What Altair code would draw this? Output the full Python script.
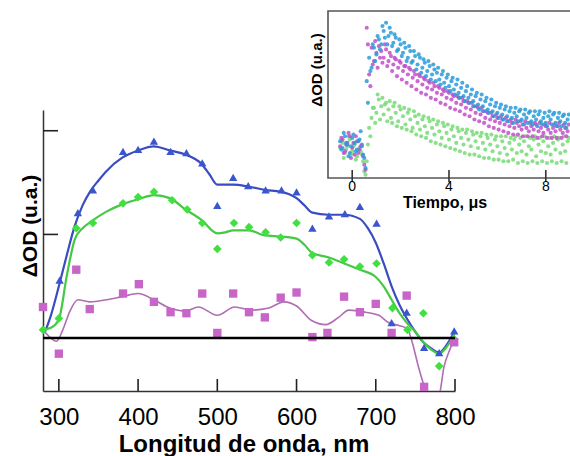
import altair as alt
import pandas as pd

FONT = "Liberation Sans"

# ---------------- main spectra (wavelength nm, dOD a.u.) ----------------
blue_nm = [301, 324, 343, 381, 400, 420, 441, 461, 481, 500, 520, 539, 561, 581, 600,
           620, 641, 661, 680, 701, 720, 739, 761, 780, 799]
blue_val = [0.56, 1.21, 1.43, 1.80, 1.82, 1.90, 1.80, 1.79, 1.69, 1.28, 1.55, 1.47, 1.43, 1.43, 1.41,
            1.06, 1.18, 1.20, 1.27, 1.11, 0.15, 0.25, -0.09, -0.14, 0.07]

green_nm = [280, 300, 322, 343, 381, 400, 420, 443, 462, 481, 500, 521, 540, 561, 580, 600,
            620, 641, 660, 680, 701, 721, 740, 760, 780, 799]
green_val = [0.08, 0.19, 1.06, 1.11, 1.30, 1.36, 1.41, 1.33, 1.24, 1.11, 0.86, 1.11, 1.07, 1.02, 0.97, 1.11,
             0.80, 0.73, 0.76, 0.69, 0.72, 0.29, 0.08, 0.24, -0.27, -0.01]

mag_nm = [280, 300, 322, 339, 381, 401, 420, 441, 461, 481, 500, 520, 540, 560, 580, 600,
          620, 639, 660, 680, 700, 720, 739, 761, 799]
mag_val = [0.30, -0.15, 0.66, 0.28, 0.43, 0.52, 0.35, 0.25, 0.24, 0.43, 0.05, 0.43, 0.25, 0.20, 0.39, 0.44,
           0.01, 0.05, 0.40, 0.25, 0.33, 0.05, 0.41, -0.47, -0.04]

blue_line_nm = [282, 290, 300, 310, 320, 330, 340, 350, 360, 380, 400, 420, 440, 460, 480, 490, 500,
                520, 540, 560, 580, 590, 600, 610, 620, 640, 660, 680, 690, 700, 710, 720, 730, 740,
                750, 760, 770, 780, 790, 800]
blue_line_val = [0.05, 0.22, 0.50, 0.80, 1.08, 1.28, 1.42, 1.52, 1.61, 1.74, 1.81, 1.85, 1.81, 1.77, 1.68, 1.58, 1.48,
                 1.48, 1.46, 1.43, 1.41, 1.39, 1.35, 1.28, 1.21, 1.19, 1.19, 1.15, 1.06, 0.92, 0.72, 0.50, 0.32, 0.18,
                 0.06, -0.04, -0.10, -0.14, -0.06, 0.07]

green_line_nm = [280, 290, 300, 310, 320, 330, 340, 360, 380, 400, 420, 440, 460, 480, 500, 510, 520,
                 540, 560, 580, 600, 610, 620, 640, 660, 680, 700, 710, 720, 730, 740, 750, 760, 770,
                 780, 790, 800]
green_line_val = [0.08, 0.10, 0.18, 0.60, 0.95, 1.06, 1.12, 1.22, 1.29, 1.34, 1.38, 1.35, 1.24, 1.14, 1.01, 1.02, 1.04,
                  1.04, 0.99, 0.98, 0.96, 0.90, 0.82, 0.78, 0.72, 0.66, 0.59, 0.50, 0.37, 0.24, 0.14, 0.06, -0.04, -0.11,
                  -0.15, -0.08, 0.05]

mag_line_nm = [280, 290, 297, 305, 314, 324, 339, 360, 380, 400, 420, 440, 460, 476, 500, 522, 543,
               565, 584, 600, 619, 637, 653, 666, 687, 704, 716, 730, 740, 746, 754, 763, 772, 780,
               786, 793, 800]
mag_line_val = [0.08, 0.00, -0.03, 0.08, 0.26, 0.37, 0.35, 0.37, 0.40, 0.43, 0.37, 0.29, 0.26, 0.30, 0.22, 0.30, 0.27,
                0.29, 0.35, 0.31, 0.17, 0.13, 0.20, 0.27, 0.25, 0.22, 0.15, 0.12, 0.09, -0.04, -0.28, -0.50, -0.60, -0.55,
                -0.28, -0.12, 0.00]

x_ticks = [300, 400, 500, 600, 700, 800]
y_ticks = [1, 2]

# ---------------- inset kinetics (time us, dOD a.u.) ----------------
t_inset_a = [-0.5, -0.4, -0.3, -0.2, -0.1, 0.0, 0.1, 0.2, 0.3, 0.4,
             0.5, 0.6, 0.7, 0.8, 0.9, 1.0, 1.1, 1.2, 1.3, 1.4,
             1.5, 1.6, 1.7, 1.8, 1.9, 2.0, 2.1, 2.2, 2.3, 2.4,
             2.5, 2.6, 2.7, 2.8, 2.9, 3.0, 3.1, 3.2, 3.3, 3.4,
             3.5, 3.6, 3.7, 3.8, 3.9, 4.0, 4.1, 4.2, 4.3, 4.4,
             4.5, 4.6, 4.7, 4.8, 4.9, 5.0, 5.1, 5.2, 5.3, 5.4,
             5.5, 5.6, 5.7, 5.8, 5.9, 6.0, 6.1, 6.2, 6.3, 6.4,
             6.5, 6.6, 6.7, 6.8, 6.9, 7.0, 7.1, 7.2, 7.3, 7.4,
             7.5, 7.6, 7.7, 7.8, 7.9, 8.0, 8.1, 8.2, 8.3, 8.4,
             8.5, 8.6, 8.7, 8.8, 8.9]
t_inset_b = [-0.45, -0.35, -0.25, -0.15, -0.05, 0.05, 0.15, 0.25, 0.35, 0.45,
             0.55, 0.65, 0.75, 0.85, 0.95, 1.05, 1.15, 1.25, 1.35, 1.45,
             1.55, 1.65, 1.75, 1.85, 1.95, 2.05, 2.15, 2.25, 2.35, 2.45,
             2.55, 2.65, 2.75, 2.85, 2.95, 3.05, 3.15, 3.25, 3.35, 3.45,
             3.55, 3.65, 3.75, 3.85, 3.95, 4.05, 4.15, 4.25, 4.35, 4.45,
             4.55, 4.65, 4.75, 4.85, 4.95, 5.05, 5.15, 5.25, 5.35, 5.45,
             5.55, 5.65, 5.75, 5.85, 5.95, 6.05, 6.15, 6.25, 6.35, 6.45,
             6.55, 6.65, 6.75, 6.85, 6.95, 7.05, 7.15, 7.25, 7.35, 7.45,
             7.55, 7.65, 7.75, 7.85, 7.95, 8.05, 8.15, 8.25, 8.35, 8.45,
             8.55, 8.65, 8.75, 8.85, 8.95]

inset_blue_a = [0.22, 0.18, 0.25, 0.20, 0.15, 0.24, 0.21, 0.17, 0.23, 0.19,
                0.12, 0.58, 0.72, 0.66, 0.78, 0.74, 0.83, 0.80, 0.88, 0.93,
                0.85, 0.87, 0.81, 0.84, 0.77, 0.80, 0.75, 0.78, 0.72, 0.76,
                0.70, 0.73, 0.68, 0.72, 0.66, 0.69, 0.64, 0.67, 0.62, 0.65,
                0.63, 0.59, 0.62, 0.57, 0.60, 0.55, 0.58, 0.53, 0.56, 0.51,
                0.54, 0.49, 0.52, 0.48, 0.50, 0.46, 0.49, 0.44, 0.47, 0.43,
                0.46, 0.41, 0.44, 0.40, 0.43, 0.39, 0.42, 0.38, 0.41, 0.37,
                0.40, 0.36, 0.39, 0.37, 0.40, 0.35, 0.38, 0.36, 0.39, 0.34,
                0.37, 0.35, 0.38, 0.34, 0.36, 0.33, 0.37, 0.35, 0.38, 0.33,
                0.36, 0.34, 0.37, 0.33, 0.35]
inset_blue_b = [0.17, 0.27, 0.21, 0.13, 0.19, 0.26, 0.16, 0.22, 0.28, 0.14,
                0.06, 0.45, 0.64, 0.80, 0.70, 0.85, 0.77, 0.91, 0.84, 0.80,
                0.90, 0.79, 0.86, 0.76, 0.83, 0.73, 0.81, 0.70, 0.79, 0.69,
                0.76, 0.65, 0.74, 0.63, 0.71, 0.61, 0.70, 0.59, 0.68, 0.58,
                0.66, 0.56, 0.64, 0.54, 0.62, 0.52, 0.60, 0.50, 0.59, 0.48,
                0.57, 0.46, 0.55, 0.45, 0.53, 0.43, 0.51, 0.41, 0.50, 0.40,
                0.48, 0.39, 0.47, 0.37, 0.45, 0.36, 0.44, 0.35, 0.43, 0.34,
                0.42, 0.33, 0.42, 0.34, 0.41, 0.32, 0.41, 0.33, 0.40, 0.32,
                0.40, 0.31, 0.40, 0.32, 0.39, 0.31, 0.40, 0.32, 0.39, 0.31,
                0.39, 0.31, 0.38, 0.30, 0.38]

inset_mag_a = [0.19, 0.23, 0.16, 0.21, 0.25, 0.18, 0.14, 0.22, 0.17, 0.20,
               0.08, 0.90, 0.62, 0.78, 0.70, 0.75, 0.79, 0.76, 0.72, 0.77,
               0.70, 0.73, 0.68, 0.71, 0.66, 0.69, 0.64, 0.67, 0.62, 0.65,
               0.60, 0.62, 0.58, 0.61, 0.56, 0.59, 0.54, 0.57, 0.53, 0.55,
               0.51, 0.54, 0.50, 0.52, 0.48, 0.51, 0.47, 0.49, 0.45, 0.48,
               0.44, 0.46, 0.42, 0.45, 0.41, 0.43, 0.39, 0.42, 0.38, 0.40,
               0.36, 0.39, 0.35, 0.37, 0.34, 0.36, 0.33, 0.35, 0.32, 0.34,
               0.31, 0.33, 0.30, 0.33, 0.31, 0.29, 0.32, 0.30, 0.28, 0.31,
               0.29, 0.32, 0.28, 0.30, 0.27, 0.31, 0.29, 0.27, 0.30, 0.28,
               0.31, 0.29, 0.27, 0.30, 0.28]
inset_mag_b = [0.24, 0.15, 0.20, 0.27, 0.12, 0.21, 0.25, 0.15, 0.19, 0.13,
               0.05, 0.80, 0.55, 0.68, 0.82, 0.66, 0.72, 0.69, 0.80, 0.67,
               0.75, 0.64, 0.72, 0.61, 0.70, 0.59, 0.67, 0.57, 0.66, 0.55,
               0.64, 0.53, 0.62, 0.51, 0.60, 0.50, 0.58, 0.48, 0.57, 0.47,
               0.55, 0.45, 0.53, 0.44, 0.52, 0.42, 0.50, 0.41, 0.49, 0.40,
               0.48, 0.38, 0.46, 0.37, 0.45, 0.35, 0.43, 0.34, 0.42, 0.33,
               0.40, 0.31, 0.39, 0.30, 0.38, 0.29, 0.37, 0.28, 0.36, 0.27,
               0.35, 0.26, 0.35, 0.26, 0.34, 0.25, 0.34, 0.25, 0.33, 0.25,
               0.33, 0.24, 0.33, 0.25, 0.32, 0.24, 0.33, 0.24, 0.32, 0.24,
               0.33, 0.24, 0.32, 0.25, 0.32]

inset_green_a = [0.18, 0.21, 0.15, 0.19, 0.23, 0.16, 0.20, 0.13, 0.18, 0.14,
                 0.04, 0.10, 0.30, 0.36, 0.42, 0.39, 0.47, 0.43, 0.38, 0.45,
                 0.41, 0.36, 0.43, 0.39, 0.34, 0.41, 0.37, 0.32, 0.39, 0.35,
                 0.30, 0.37, 0.33, 0.29, 0.35, 0.31, 0.27, 0.34, 0.30, 0.26,
                 0.32, 0.28, 0.24, 0.31, 0.27, 0.23, 0.29, 0.25, 0.21, 0.28,
                 0.24, 0.20, 0.27, 0.23, 0.19, 0.26, 0.22, 0.18, 0.25, 0.21,
                 0.17, 0.24, 0.20, 0.16, 0.23, 0.19, 0.15, 0.22, 0.18, 0.14,
                 0.21, 0.17, 0.23, 0.15, 0.20, 0.16, 0.22, 0.14, 0.19, 0.17,
                 0.23, 0.13, 0.20, 0.16, 0.22, 0.15, 0.19, 0.14, 0.21, 0.17,
                 0.23, 0.15, 0.20, 0.16, 0.22]
inset_green_b = [0.22, 0.12, 0.17, 0.25, 0.14, 0.19, 0.11, 0.22, 0.16, 0.10,
                 0.02, 0.20, 0.25, 0.42, 0.33, 0.50, 0.35, 0.48, 0.44, 0.34,
                 0.46, 0.33, 0.45, 0.31, 0.43, 0.30, 0.42, 0.29, 0.41, 0.28,
                 0.40, 0.26, 0.38, 0.25, 0.37, 0.24, 0.36, 0.22, 0.35, 0.21,
                 0.34, 0.20, 0.33, 0.19, 0.32, 0.18, 0.31, 0.17, 0.30, 0.16,
                 0.29, 0.15, 0.29, 0.14, 0.28, 0.14, 0.27, 0.13, 0.27, 0.12,
                 0.26, 0.12, 0.26, 0.11, 0.25, 0.11, 0.25, 0.10, 0.25, 0.10,
                 0.24, 0.11, 0.25, 0.09, 0.24, 0.10, 0.25, 0.09, 0.24, 0.10,
                 0.25, 0.09, 0.24, 0.10, 0.25, 0.09, 0.24, 0.10, 0.25, 0.09,
                 0.24, 0.10, 0.25, 0.09, 0.24]
inset_ticks = [0, 4, 8]

# ---------------- scales ----------------
xs = alt.Scale(domain=[280, 800], nice=False, zero=False)
ys = alt.Scale(domain=[-0.51, 2.2], nice=False, zero=False)
xs_in = alt.Scale(domain=[-1, 9], range=[285, 527], nice=False, zero=False)
ys_in = alt.Scale(domain=[0, 1], range=[68, -99], nice=False, zero=False)

x_axis = alt.Axis(values=x_ticks, title=None, grid=False, ticks=False, tickSize=0,
                  domainColor="#333333", domainWidth=1.5, labelFont=FONT, labelFontSize=24,
                  labelColor="black", labelPadding=14, labelFlush=False, labelOverlap=False)
y_axis = alt.Axis(values=y_ticks, title=None, grid=False, ticks=False, tickSize=0, labels=False,
                  domainColor="#333333", domainWidth=1.5)


def xy(fx, fy):
    return dict(x=alt.X(fx + ":Q", scale=xs, axis=x_axis),
                y=alt.Y(fy + ":Q", scale=ys, axis=y_axis))


layers = []
series = [
    (blue_nm, blue_val, blue_line_nm, blue_line_val, "#3a56cf", "#3b4cc0", "triangle-up", 70, 2.2),
    (green_nm, green_val, green_line_nm, green_line_val, "#3fe03f", "#45c845", "diamond", 75, 2.2),
    (mag_nm, mag_val, mag_line_nm, mag_line_val, "#c865c8", "#b06cb4", "square", 70, 1.6),
]
for pnm, pval, lnm, lval, pcol, lcol, shape, size, lw in series:
    ldf = pd.DataFrame({"nm": lnm, "v": lval})
    layers.append(alt.Chart(ldf).mark_line(color=lcol, strokeWidth=lw, interpolate="monotone",
                                           clip=True).encode(**xy("nm", "v")))
for pnm, pval, lnm, lval, pcol, lcol, shape, size, lw in series:
    pdf = pd.DataFrame({"nm": pnm, "v": pval})
    layers.append(alt.Chart(pdf).mark_point(shape=shape, filled=True, size=size, color=pcol,
                                            opacity=1).encode(**xy("nm", "v")))

zero_df = pd.DataFrame({"v": [0]})
layers.append(alt.Chart(zero_df).mark_rule(color="black", strokeWidth=2.5).encode(
    y=alt.Y("v:Q", scale=ys, axis=y_axis)))

xt_df = pd.DataFrame({"nm": x_ticks})
layers.append(alt.Chart(xt_df).mark_rule(color="#222222", strokeWidth=1.6).encode(
    x=alt.X("nm:Q", scale=xs, axis=x_axis), y=alt.value(281), y2=alt.value(269)))
yt_df = pd.DataFrame({"v": y_ticks})
layers.append(alt.Chart(yt_df).mark_rule(color="#222222", strokeWidth=1.6).encode(
    y=alt.Y("v:Q", scale=ys, axis=y_axis), x=alt.value(0), x2=alt.value(15)))

title_df = pd.DataFrame({"label": ["Longitud de onda, nm"]})
layers.append(alt.Chart(title_df).mark_text(font=FONT, fontSize=24, fontWeight="bold", color="black",
                                            align="center", baseline="alphabetic").encode(
    text="label:N", x=alt.value(201), y=alt.value(342)))
ytitle_df = pd.DataFrame({"label": ["\u0394OD (u.a.)"]})
layers.append(alt.Chart(ytitle_df).mark_text(font=FONT, fontSize=21, fontWeight="bold", color="black",
                                             align="center", baseline="middle", angle=270).encode(
    text="label:N", x=alt.value(-12), y=alt.value(116)))

main = alt.layer(*layers)

# ---------------- inset ----------------
box_df = pd.DataFrame({"t0": [-1], "t1": [9.6], "v0": [0], "v1": [1]})
box = alt.Chart(box_df).mark_rect(fill="white", stroke="#555555", strokeWidth=1.6).encode(
    x=alt.X("t0:Q", scale=xs_in, axis=None), x2="t1:Q",
    y=alt.Y("v0:Q", scale=ys_in, axis=None), y2="v1:Q")

inset_layers = [box]
clouds = [
    (t_inset_a, inset_green_a, "#78da78"), (t_inset_b, inset_green_b, "#78da78"),
    (t_inset_a, inset_mag_a, "#c24fc8"), (t_inset_b, inset_mag_b, "#c24fc8"),
    (t_inset_a, inset_blue_a, "#2a9ad8"), (t_inset_b, inset_blue_b, "#2a9ad8"),
]
for tt, vals, col in clouds:
    idf = pd.DataFrame({"t": tt, "v": vals})
    inset_layers.append(alt.Chart(idf).mark_circle(size=17, color=col, opacity=0.85).encode(
        x=alt.X("t:Q", scale=xs_in, axis=None),
        y=alt.Y("v:Q", scale=ys_in, axis=None)))

it_df = pd.DataFrame({"t": inset_ticks})
inset_layers.append(alt.Chart(it_df).mark_rule(color="#333333", strokeWidth=1.6).encode(
    x=alt.X("t:Q", scale=xs_in, axis=None), y=alt.value(60), y2=alt.value(72)))
inset_layers.append(alt.Chart(it_df).mark_text(font=FONT, fontSize=14, color="black",
                                               align="center", baseline="top").encode(
    x=alt.X("t:Q", scale=xs_in, axis=None), text="t:Q", y=alt.value(70)))

it_title = pd.DataFrame({"label": ["Tiempo, \u03bcs"]})
inset_layers.append(alt.Chart(it_title).mark_text(font=FONT, fontSize=16, fontWeight="bold", color="black",
                                                  align="center", baseline="alphabetic").encode(
    text="label:N", x=alt.value(402), y=alt.value(98)))
iy_title = pd.DataFrame({"label": ["\u0394OD (u.a.)"]})
inset_layers.append(alt.Chart(iy_title).mark_text(font=FONT, fontSize=15, fontWeight="bold", color="black",
                                                  align="center", baseline="middle", angle=270).encode(
    text="label:N", x=alt.value(274), y=alt.value(-40)))

inset = alt.layer(*inset_layers)

chart = alt.layer(main, inset).resolve_scale(x="independent", y="independent").properties(
    width=412, height=281,
    autosize=alt.AutoSizeParams(type="none"),
    padding={"left": 43, "top": 110, "right": 115, "bottom": 65},
    background="white",
).configure_view(stroke=None)

chart.save("out.html", embed_options={"renderer": "svg", "actions": False})
